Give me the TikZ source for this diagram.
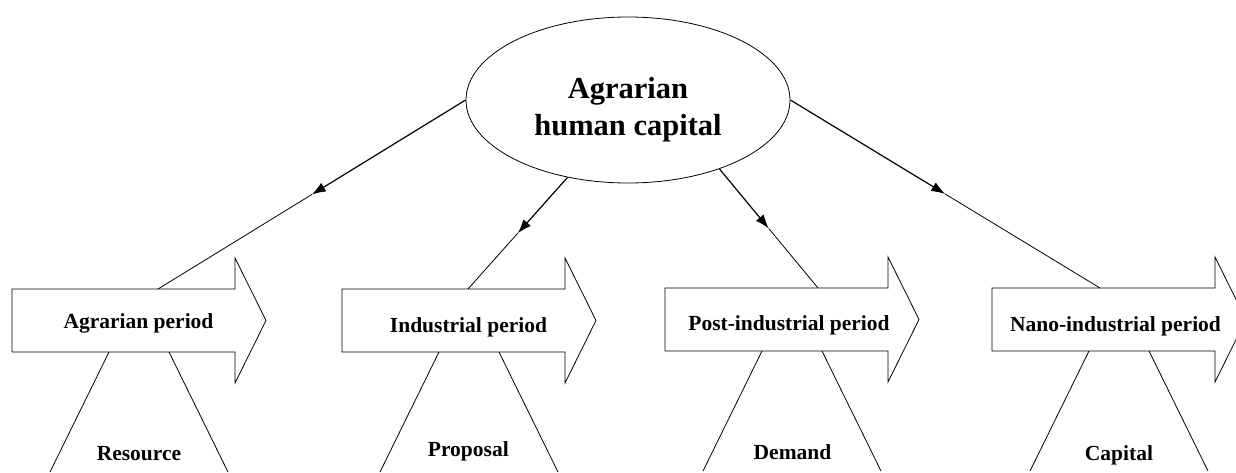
\documentclass[tikz,border=0pt]{standalone}
\usepackage{fontspec}
\setmainfont{Liberation Serif}
\usetikzlibrary{arrows.meta,calc,shapes.geometric}
\begin{document}
\begin{tikzpicture}[x=1pt,y=-1pt,
  outline/.style={draw=black, line width=0.8pt, fill=white, line join=miter},
  leg/.style={draw=black, line width=0.8pt},
  feed/.style={line width=1.2pt, -{Latex[length=14pt,width=10pt]}},
  tail/.style={line width=0.8pt},
  hub/.style={ellipse, draw, line width=0.8pt, minimum width=324pt, minimum height=166pt, inner sep=0pt},
  hubtext/.style={font=\bfseries\fontsize{30.5}{37}\selectfont, anchor=base, inner sep=0pt},
  periodtext/.style={font=\bfseries\fontsize{21.5}{26}\selectfont, anchor=base, inner sep=0pt},
  basistext/.style={font=\bfseries\fontsize{21.5}{26}\selectfont, anchor=base, inner sep=0pt},
]
\useasboundingbox (0,0) rectangle (1236,472);
\clip (0,0) rectangle (1236,472);

% four period arrows: shaft 223 long and 63 high, head 31 long; two legs below each
\foreach \i/\L/\T in {1/12/289, 2/342/289, 3/665/288, 4/992/288}{
  \draw[outline] (\L,\T) -- ++(223,0) -- ++(0,-31) -- ++(31,62.5) -- ++(-31,62.5)
    -- ++(0,-31) -- ++(-223,0) -- cycle;
  \draw[leg] (\L+97,\T+63) -- (\L+38,\T+183);
  \draw[leg] (\L+157,\T+63) -- (\L+216,\T+183);
}

% points where the connectors meet the top of each shaft
\coordinate (e1) at (158,289);
\coordinate (e2) at (468,289);
\coordinate (e3) at (818,288);
\coordinate (e4) at (1100,288);

% central ellipse
\node[hub] (hub) at (628,100) {};
\node[hubtext] (hubtitle) at (628,98.3)
  {\begin{tabular}[t]{@{}c@{}}Agrarian\\human capital\end{tabular}};

% connectors: arrow tip half way, thin line on to the shaft
\draw[feed] (hub.west) -- ($(hub.west)!0.5!(e1)$) coordinate (m1);
\draw[tail] (m1) -- (e1);
\draw[feed] (hub.232.65) -- ($(hub.232.65)!0.5!(e2)$) coordinate (m2);
\draw[tail] (m2) -- (e2);
\draw[feed] (hub.323.1) -- ($(hub.323.1)!0.5!(e3)$) coordinate (m3);
\draw[tail] (m3) -- (e3);
\draw[feed] (hub.east) -- ($(hub.east)!0.5!(e4)$) coordinate (m4);
\draw[tail] (m4) -- (e4);

% period labels
\node[periodtext] (t1) at (138.5,328.3) {Agrarian period};
\node[periodtext] (t2) at (468.5,332.7) {Industrial period};
\node[periodtext] (t3) at (789,330.7) {Post-industrial period};
\node[periodtext] (t4) at (1115.5,331) {Nano-industrial period};

% labels between the legs
\node[basistext] (r1) at (139,460) {Resource};
\node[basistext] (r2) at (468.3,456.5) {Proposal};
\node[basistext] (r3) at (792.5,459.3) {Demand};
\node[basistext] (r4) at (1119,460) {Capital};
\end{tikzpicture}
\end{document}
